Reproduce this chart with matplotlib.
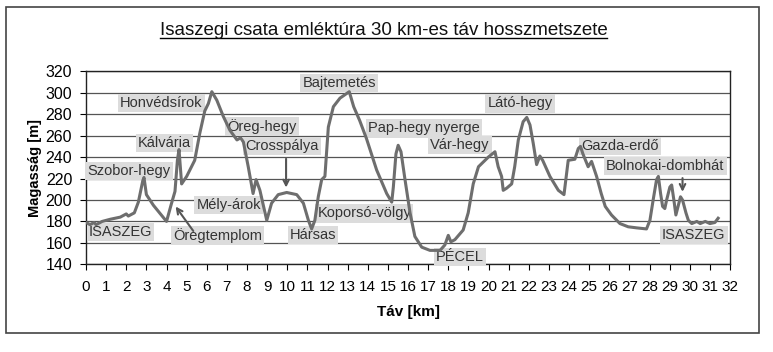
## elevation profile of the Isaszeg 30 km hike
import matplotlib
matplotlib.use("Agg")
import matplotlib.pyplot as plt
from matplotlib.patches import Rectangle
from matplotlib.lines import Line2D

plt.rcParams['font.family'] = ['Liberation Sans', 'DejaVu Sans']

## distance [km] and height [m]
tav = [0, 0.2, 0.4, 0.5, 0.8, 1.2, 1.7, 2.0, 2.1, 2.4, 2.6, 2.82, 2.88, 3.0, 3.35,
       4.0, 4.25, 4.42, 4.54, 4.62, 4.75, 5.0, 5.4, 5.65, 5.9, 6.08, 6.25, 6.5,
       6.82, 7.15, 7.5, 7.68, 7.82, 8.06, 8.3, 8.45, 8.64, 8.98, 9.22, 9.55, 9.97,
       10.47, 10.8, 11.05, 11.21, 11.37, 11.54, 11.71, 11.87, 12.04, 12.29, 12.62,
       13.08, 13.3, 13.6, 13.94, 14.44, 14.94, 15.19, 15.27, 15.4, 15.51, 15.65,
       15.85, 16.1, 16.34, 16.68, 17.09, 17.59, 17.83, 18.0, 18.13, 18.33, 18.74,
       18.99, 19.24, 19.5, 19.99, 20.32, 20.48, 20.65, 20.73, 20.9, 21.15, 21.3,
       21.48, 21.72, 21.9, 22.06, 22.22, 22.39, 22.55, 22.69, 23.05, 23.47, 23.75,
       23.96, 24.29, 24.46, 24.57, 24.69, 24.95, 25.12, 25.37, 25.6, 25.8, 26.11,
       26.53, 26.94, 27.36, 27.85, 28.02, 28.18, 28.35, 28.44, 28.55, 28.65, 28.76,
       28.85, 29.01, 29.1, 29.21, 29.31, 29.42, 29.54, 29.64, 29.81, 29.93, 30.1,
       30.35, 30.52, 30.77, 31.0, 31.25, 31.41]
magassag = [179, 177, 179, 177, 180, 182, 184, 187, 185, 188, 198, 218, 221, 205, 195,
            180, 197, 208, 237, 247, 215, 222, 237, 262, 283, 290, 301, 293,
            278, 265, 256, 258, 254, 231, 206, 219, 209, 181, 197, 205, 207,
            205, 197, 181, 173, 181, 203, 219, 222, 268, 287, 295,
            301, 287, 274, 257, 228, 206, 198, 212, 243, 251, 245,
            219, 188, 166, 156, 153, 153, 158, 167, 161, 163, 172,
            188, 215, 231, 240, 245, 231, 222, 209, 211, 215, 231,
            256, 273, 277, 270, 253, 233, 241, 237, 222, 209, 205,
            237, 238, 248, 250, 243, 231, 236, 222, 206, 194, 186,
            178, 175, 174, 173, 181, 200, 219, 222, 206, 194, 192,
            200, 212, 214, 200, 186, 194, 203, 200, 188, 181, 178,
            180, 178, 180, 178, 179, 183]

## place names (label, km, m)
nevek = ["Honvédsírok", "Kálvária", "Szobor-hegy", "ISASZEG", "Öregtemplom",
         "Mély-árok", "Öreg-hegy", "Crosspálya", "Hársas", "Koporsó-völgy",
         "Bajtemetés", "Pap-hegy nyerge", "Vár-hegy", "PÉCEL", "Látó-hegy",
         "Gazda-erdő", "Bolnokai-dombhát", "ISASZEG"]
nev_x = [3.73, 3.9, 2.14, 1.71, 6.53, 7.1, 8.74, 9.74, 11.28, 13.83,
         12.57, 16.8, 18.58, 18.58, 21.56, 26.53, 28.79, 30.2]
nev_y = [290.4, 253, 227, 170.4, 166.7, 195.3, 268.3, 250.6, 167.3, 187.5,
         309.3, 266.8, 251.2, 147, 290, 250.3, 231.7, 167.3]

fig = plt.figure(figsize=(7.73, 3.52), dpi=100)
ax = fig.add_axes([0.1113, 0.2491, 0.8331, 0.5483])

## frame round the whole chart
fig.add_artist(Rectangle((0.0078, 0.054), 0.974, 0.925, transform=fig.transFigure,
                         fill=False, edgecolor='#444444', linewidth=1.2))

ax.plot(tav, magassag, color='#6e6e6e', linewidth=2.2, zorder=4)

for n, x, y in zip(nevek, nev_x, nev_y):
    ax.text(x, y, n, ha='center', va='center', fontsize=10.5, color='#333333', zorder=3,
            bbox=dict(boxstyle='square,pad=0.15', facecolor='#dcdcdc', edgecolor='none'))

## arrows
ax.annotate("", xy=(4.37, 196), xytext=(5.41, 169),
            arrowprops=dict(arrowstyle='->', color='#555555', lw=1.5), zorder=5)
ax.annotate("", xy=(9.94, 209), xytext=(9.94, 241),
            arrowprops=dict(arrowstyle='->', color='#555555', lw=1.5), zorder=5)
ax.annotate("", xy=(29.64, 205), xytext=(29.64, 223),
            arrowprops=dict(arrowstyle='->', color='#555555', lw=1.5), zorder=5)

ax.set_xlim(0, 32)
ax.set_ylim(140, 320)
ax.set_xticks(range(0, 33))
ax.set_yticks(range(140, 321, 20))
ax.grid(axis='y', color='#555555', linewidth=0.9)
ax.set_axisbelow(True)
ax.tick_params(axis='x', labelsize=11, length=4, pad=7)
ax.tick_params(axis='y', labelsize=11.5, length=4, pad=6)
for s in ax.spines.values():
    s.set_color('#222222')
    s.set_linewidth(1.0)

## title with underline
fig.text(0.496, 1 - 35 / 352, "Isaszegi csata emléktúra 30 km-es táv hosszmetszete",
         ha='center', va='baseline', fontsize=13.5, color='#111111')
fig.add_artist(Line2D([160 / 773, 607 / 773], [1 - 37.5 / 352, 1 - 37.5 / 352],
                      transform=fig.transFigure, color='black', linewidth=1.0))

fig.text(35 / 773, 1 - 168 / 352, "Magasság [m]", rotation=90, ha='center', va='center',
         fontsize=10.5, fontweight='bold')
fig.text(408 / 773, 1 - 312 / 352, "Táv [km]", ha='center', va='center',
         fontsize=11, fontweight='bold')

fig.savefig("out.png", dpi=100)
